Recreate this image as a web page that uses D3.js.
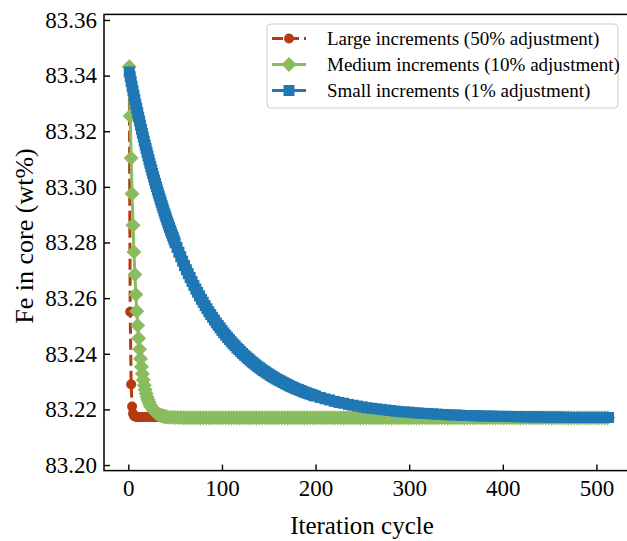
<!DOCTYPE html>
<html>
  <head>
    <meta charset="utf-8">
    <title>Fe in core vs iteration</title>
    <script type="text/javascript" src="https://d3js.org/d3.v7.min.js"></script>
    <style type="text/css">
      body{ margin:0; background:#fff; }
      svg text{ font-family:"Liberation Serif","Times New Roman",serif; fill:#000; }
    </style>
  </head>
  <body>
    <div id="chart"></div>
    <script type="text/javascript">

      //Tick labels
      var xTicks = [0, 100, 200, 300, 400, 500];
      var yTicks = [83.20, 83.22, 83.24, 83.26, 83.28, 83.30, 83.32, 83.34, 83.36];

      var seriesNames = ["Large increments (50% adjustment)",
                         "Medium increments (10% adjustment)",
                         "Small increments (1% adjustment)"];

      //Large increments (red) - iteration numbers and Fe values
      var largeIter = d3.range(1, 11).concat(d3.range(12, 51, 2), d3.range(60, 501, 20), [512]);
      var largeFe = [83.3432, 83.2551, 83.2290, 83.2210, 83.2185, 83.2177, 83.2175, 83.2174, 83.2173, 83.2173,
        83.2173, 83.2173, 83.2173, 83.2173, 83.2173, 83.2173, 83.2173, 83.2173, 83.2173, 83.2173,
        83.2173, 83.2173, 83.2173, 83.2173, 83.2173, 83.2173, 83.2173, 83.2173, 83.2173, 83.2173,
        83.2173, 83.2173, 83.2173, 83.2173, 83.2173, 83.2173, 83.2173, 83.2173, 83.2173, 83.2173,
        83.2173, 83.2173, 83.2173, 83.2173, 83.2173, 83.2173, 83.2173, 83.2173, 83.2173, 83.2173,
        83.2173, 83.2173, 83.2173, 83.2173];

      //Medium increments (green)
      var mediumIter = d3.range(1, 42).concat(d3.range(44, 514, 3));
      var mediumFe = [83.3432, 83.3255, 83.3104, 83.2975, 83.2862, 83.2766, 83.2685, 83.2613, 83.2553, 83.2502,
        83.2456, 83.2416, 83.2382, 83.2353, 83.2328, 83.2306, 83.2287, 83.2271, 83.2257, 83.2245,
        83.2235, 83.2226, 83.2218, 83.2211, 83.2206, 83.2201, 83.2196, 83.2193, 83.2190, 83.2187,
        83.2185, 83.2183, 83.2181, 83.2179, 83.2178, 83.2177, 83.2176, 83.2175, 83.2174, 83.2174,
        83.2173,
        83.2172, 83.2172, 83.2171, 83.2171, 83.2171, 83.2170, 83.2170, 83.2170, 83.2170, 83.2170,
        83.2170, 83.2170, 83.2170, 83.2170, 83.2170, 83.2170, 83.2170, 83.2170, 83.2170, 83.2170,
        83.2170, 83.2170, 83.2170, 83.2170, 83.2170, 83.2170, 83.2170, 83.2170, 83.2170, 83.2170,
        83.2170, 83.2170, 83.2170, 83.2170, 83.2170, 83.2170, 83.2170, 83.2170, 83.2170, 83.2170,
        83.2170, 83.2170, 83.2170, 83.2170, 83.2170, 83.2170, 83.2170, 83.2170, 83.2170, 83.2170,
        83.2170, 83.2170, 83.2170, 83.2170, 83.2170, 83.2170, 83.2170, 83.2170, 83.2170, 83.2170,
        83.2170, 83.2170, 83.2170, 83.2170, 83.2170, 83.2170, 83.2170, 83.2170, 83.2170, 83.2170,
        83.2170, 83.2170, 83.2170, 83.2170, 83.2170, 83.2170, 83.2170, 83.2170, 83.2170, 83.2170,
        83.2170, 83.2170, 83.2170, 83.2170, 83.2170, 83.2170, 83.2170, 83.2170, 83.2170, 83.2170,
        83.2170, 83.2170, 83.2170, 83.2170, 83.2170, 83.2170, 83.2170, 83.2170, 83.2170, 83.2170,
        83.2170, 83.2170, 83.2170, 83.2170, 83.2170, 83.2170, 83.2170, 83.2170, 83.2170, 83.2170,
        83.2170, 83.2170, 83.2170, 83.2170, 83.2170, 83.2170, 83.2170, 83.2170, 83.2170, 83.2170,
        83.2170, 83.2170, 83.2170, 83.2170, 83.2170, 83.2170, 83.2170, 83.2170, 83.2170, 83.2170,
        83.2170, 83.2170, 83.2170, 83.2170, 83.2170, 83.2170, 83.2170, 83.2170, 83.2170, 83.2170,
        83.2170, 83.2170, 83.2170, 83.2170, 83.2170, 83.2170, 83.2170, 83.2170, 83.2170, 83.2170,
        83.2170, 83.2170, 83.2170, 83.2170, 83.2170, 83.2170, 83.2170];

      //Small increments (blue)
      var smallIter = d3.range(1, 51).concat(d3.range(52, 201, 2), d3.range(205, 511, 5), [513]);
      var smallFe = [83.3413, 83.3396, 83.3379, 83.3362, 83.3345, 83.3329, 83.3313, 83.3297, 83.3282, 83.3267,
        83.3251, 83.3237, 83.3222, 83.3207, 83.3193, 83.3179, 83.3165, 83.3151, 83.3138, 83.3124,
        83.3111, 83.3098, 83.3085, 83.3073, 83.3060, 83.3048, 83.3036, 83.3024, 83.3012, 83.3001,
        83.2989, 83.2978, 83.2967, 83.2956, 83.2945, 83.2934, 83.2924, 83.2913, 83.2903, 83.2893,
        83.2883, 83.2873, 83.2863, 83.2854, 83.2844, 83.2835, 83.2826, 83.2817, 83.2808, 83.2799,
        83.2782, 83.2765, 83.2749, 83.2733, 83.2717, 83.2702, 83.2688, 83.2674, 83.2660, 83.2646,
        83.2633, 83.2621, 83.2608, 83.2596, 83.2585, 83.2573, 83.2562, 83.2551, 83.2541, 83.2531,
        83.2521, 83.2511, 83.2502, 83.2493, 83.2484,
        83.2475, 83.2467, 83.2459, 83.2451, 83.2443, 83.2436, 83.2429, 83.2421, 83.2415, 83.2408,
        83.2401, 83.2395, 83.2389, 83.2383, 83.2377, 83.2371, 83.2366, 83.2360, 83.2355, 83.2350,
        83.2345, 83.2340, 83.2336, 83.2331, 83.2327, 83.2322, 83.2318, 83.2314, 83.2310, 83.2306,
        83.2303, 83.2299, 83.2296, 83.2292, 83.2289, 83.2285, 83.2282, 83.2279, 83.2276, 83.2273,
        83.2271, 83.2268, 83.2265, 83.2262, 83.2260, 83.2257, 83.2255, 83.2253, 83.2250, 83.2248,
        83.2243, 83.2238, 83.2234, 83.2229, 83.2225, 83.2222, 83.2218, 83.2215, 83.2212, 83.2209,
        83.2206, 83.2204, 83.2202, 83.2200, 83.2198, 83.2196, 83.2194, 83.2192, 83.2191, 83.2190,
        83.2188, 83.2187, 83.2186, 83.2185, 83.2184, 83.2183, 83.2182, 83.2181, 83.2180, 83.2180,
        83.2179, 83.2178, 83.2178, 83.2177, 83.2177, 83.2176, 83.2176, 83.2176, 83.2175, 83.2175,
        83.2175, 83.2174, 83.2174, 83.2174, 83.2173, 83.2173, 83.2173, 83.2173, 83.2172, 83.2172,
        83.2172, 83.2172, 83.2172, 83.2171, 83.2171, 83.2171, 83.2171, 83.2171, 83.2171, 83.2171,
        83.2171, 83.2171, 83.2171];

      var colors = ["#b53a10", "#8abc5f", "#1f77b4"];
      var serif = "'Liberation Serif', 'Times New Roman', serif";

      //Width and height
      var w = 627;
      var h = 541;

      //Scales
      var x = d3.scaleLinear().domain([-26, 538]).range([104, 632]);
      var y = d3.scaleLinear().domain([83.198, 83.362]).range([470.6, 14.4]);

      var svg = d3.select("#chart")
            .append("svg")
            .attr("width", w)
            .attr("height", h);

      svg.append("rect").attr("width", w).attr("height", h).attr("fill", "#fff");

      function zip(it, vals){
        var out = [];
        for (var i = 0; i < Math.min(it.length, vals.length); i++) {
          out.push({ it: it[i], v: vals[i] });
        }
        return out;
      }

      var series = [zip(largeIter, largeFe), zip(mediumIter, mediumFe), zip(smallIter, smallFe)];

      var line = d3.line()
            .x(function(d) { return x(d.it); })
            .y(function(d) { return y(d.v); });

      //marker shapes
      var diamondPath = "M0,-7.5L7.5,0L0,7.5L-7.5,0Z";
      var squarePath = d3.symbol(d3.symbolSquare, 121)();

      function drawMarker(g, k) {
        if (k == 0) {
          return g.append("circle").attr("r", 5).attr("fill", colors[0]);
        } else if (k == 1) {
          return g.append("path").attr("d", diamondPath).attr("fill", colors[1]);
        } else {
          return g.append("path").attr("d", squarePath).attr("fill", colors[2]);
        }
      }

      var plot = svg.append("g");

      series.forEach(function(data, k) {
        plot.append("path")
          .datum(data)
          .attr("d", line)
          .attr("fill", "none")
          .attr("stroke", colors[k])
          .attr("stroke-width", 3)
          .attr("stroke-dasharray", k == 0 ? "11,5" : null);

        data.forEach(function(d) {
          var g = plot.append("g").attr("transform", "translate(" + x(d.it) + "," + y(d.v) + ")");
          drawMarker(g, k);
        });
      });

      //Axes (ticks pointing in)
      var xAxis = d3.axisBottom(x).tickValues(xTicks).tickSizeInner(-6).tickSizeOuter(0).tickPadding(9);
      var yAxis = d3.axisLeft(y).tickValues(yTicks).tickFormat(d3.format(".2f")).tickSizeInner(-6).tickSizeOuter(0).tickPadding(7);

      var gx = svg.append("g").attr("transform", "translate(0,470.6)").call(xAxis);
      var gy = svg.append("g").attr("transform", "translate(104,0)").call(yAxis);

      [gx, gy].forEach(function(g) {
        g.attr("font-family", null).attr("font-size", null);
        g.select(".domain").remove();
        g.selectAll(".tick line").attr("stroke", "#000").attr("stroke-width", 1.4);
        g.selectAll(".tick text")
          .style("font-family", serif)
          .style("font-size", "23px")
          .attr("fill", "#000");
      });

      //Frame
      svg.append("rect")
        .attr("x", 104)
        .attr("y", 14.4)
        .attr("width", 632 - 104)
        .attr("height", 470.6 - 14.4)
        .attr("fill", "none")
        .attr("stroke", "#000")
        .attr("stroke-width", 1.5);

      //Axis labels
      svg.append("text")
        .attr("x", 362)
        .attr("y", 534)
        .attr("text-anchor", "middle")
        .style("font-size", "25px")
        .text("Iteration cycle");

      svg.append("text")
        .attr("transform", "translate(33,236) rotate(-90)")
        .attr("text-anchor", "middle")
        .style("font-size", "26px")
        .text("Fe in core (wt%)");

      //Legend
      var legend = svg.append("g");
      legend.append("rect")
        .attr("x", 267)
        .attr("y", 24)
        .attr("width", 351)
        .attr("height", 84)
        .attr("rx", 4)
        .attr("fill", "#fff")
        .attr("fill-opacity", 0.8)
        .attr("stroke", "#cccccc")
        .attr("stroke-width", 1);

      seriesNames.forEach(function(name, k) {
        var cy = 38.5 + k * 26;
        legend.append("line")
          .attr("x1", 272).attr("x2", 306)
          .attr("y1", cy).attr("y2", cy)
          .attr("stroke", colors[k])
          .attr("stroke-width", 3)
          .attr("stroke-dasharray", k == 0 ? "11,5" : null);
        var g = legend.append("g").attr("transform", "translate(289," + cy + ")");
        drawMarker(g, k);
        legend.append("text")
          .attr("x", 327)
          .attr("y", cy + 6.5)
          .style("font-size", "19px")
          .text(name);
      });

    </script>
  </body>
</html>
